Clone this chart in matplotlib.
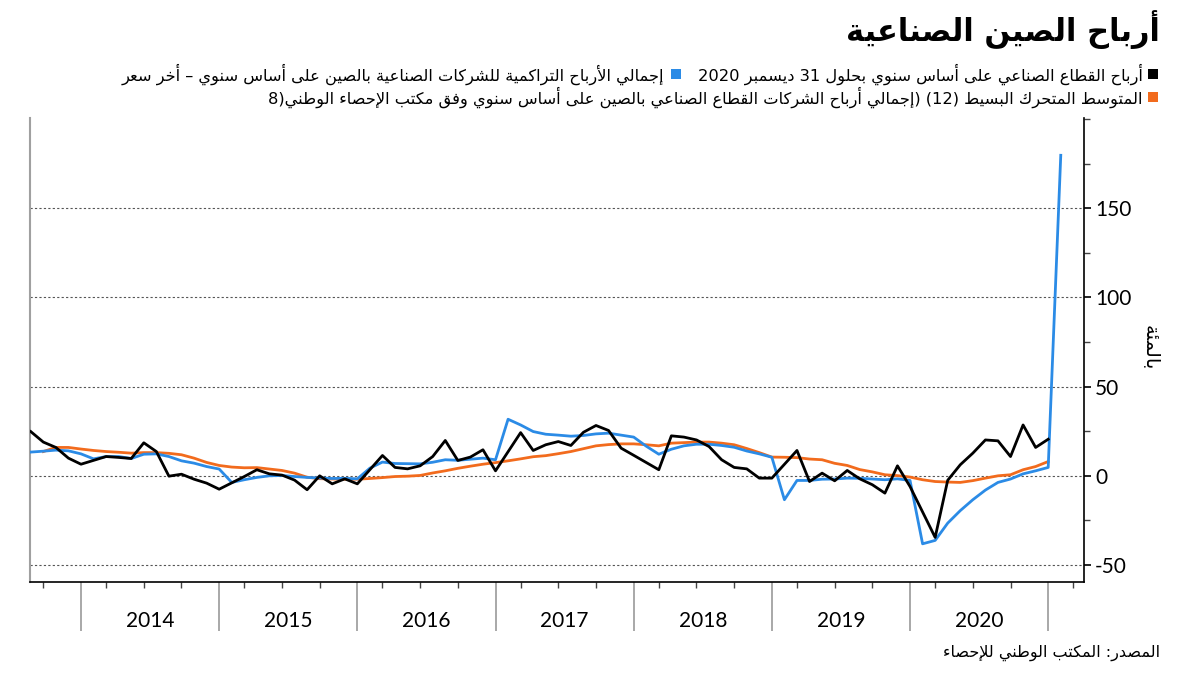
import re
import numpy as np
import matplotlib
matplotlib.use('Agg')
import matplotlib.pyplot as plt
from matplotlib.patches import Rectangle
from matplotlib.transforms import blended_transform_factory

plt.rcParams['axes.unicode_minus'] = False

#####################################################################
# data; one point per month, Jan folded into Feb

years = list(range(2014, 2021))
months = (['2013-%02d' % m for m in range(8, 13)]
          + ['%d-%02d' % (y, m) for y in years for m in range(2, 13)]
          + ['2021-02'])

# monthly profits yoy (no separate Jan-Feb point)
monthly = [24.8, 18.9, 15.9, 9.9, 6.5,
           None, 10.8, 10.3, 9.7, 18.5, 13.6, -0.2, 0.9, -1.9, -4.1, -7.5,
           None, -0.4, 3.4, 1.1, 0.4, -2.4, -7.8, 0.0, -4.5, -1.7, -4.5,
           None, 11.4, 4.7, 3.9, 5.6, 10.8, 19.8, 8.6, 10.5, 14.6, 2.8,
           None, 24.2, 14.2, 17.4, 19.2, 17.0, 24.4, 28.2, 25.4, 15.5, 11.5,
           None, 3.4, 22.4, 21.7, 20.1, 16.4, 9.0, 4.7, 3.9, -1.3, -1.3,
           None, 14.2, -3.2, 1.5, -2.8, 3.0, -1.7, -5.0, -9.7, 5.6, -6.0,
           None, -34.5, -2.5, 6.2, 12.7, 20.1, 19.6, 10.8, 28.5, 15.9, 20.5]

# cumulative year-to-date profits yoy
cumulative = [13.3, 13.8, 14.4, 14.0, 12.3,
              9.5, 10.8, 10.8, 9.7, 12.1, 12.3, 10.8, 8.4, 7.1, 5.2, 3.8,
              -3.7, -2.2, -0.9, 0.0, 0.2, -0.4, -0.9, -1.2, -1.5, -1.4, -1.7,
              4.3, 7.7, 6.9, 6.8, 6.7, 7.6, 9.0, 8.7, 9.3, 9.9, 9.0,
              31.7, 28.5, 24.8, 23.3, 22.8, 22.2, 22.6, 23.5, 23.9, 22.8, 21.7,
              16.6, 12.1, 14.9, 16.8, 17.7, 17.7, 17.0, 16.0, 13.9, 12.3, 10.4,
              -13.4, -2.6, -2.6, -1.9, -1.8, -1.3, -1.4, -1.8, -2.2, -1.7, -2.6,
              -38.1, -36.2, -26.5, -19.5, -13.4, -8.0, -3.7, -1.8, 1.1, 2.8, 4.7,
              179.6]

# 12-month simple moving average
moving_avg = [None, 13.6, 15.9, 15.9, 15.0,
              14.2, 13.6, 13.2, 12.7, 13.0, 13.0, 12.6, 11.8, 9.9, 7.5, 5.8,
              4.9, 4.5, 4.6, 3.8, 3.0, 1.5, -0.8, -1.6, -1.8, -1.9, -1.9,
              -1.5, -1.0, -0.4, -0.2, 0.2, 1.6, 2.8, 4.2, 5.4, 6.5, 7.4,
              8.4, 9.5, 10.7, 11.3, 12.4, 13.6, 15.2, 16.8, 17.5, 17.9, 17.9,
              17.4, 16.8, 18.3, 18.6, 18.9, 18.9, 18.3, 17.4, 15.3, 13.0, 10.5,
              10.4, 10.2, 9.4, 9.0, 7.0, 5.8, 3.5, 2.2, 0.6, 0.1, -0.7,
              -2.2, -3.2, -3.5, -3.7, -2.7, -1.3, 0.0, 0.6, 3.4, 5.2, 8.0]

y_ticks = [-50, 0, 50, 100, 150]

title = 'أرباح الصين الصناعية'
lab_black = 'أرباح القطاع الصناعي على أساس سنوي بحلول 31 ديسمبر 2020'
lab_blue = 'إجمالي الأرباح التراكمية للشركات الصناعية بالصين على أساس سنوي – أخر سعر'
lab_orange = ('المتوسط المتحرك البسيط (12) (إجمالي أرباح الشركات القطاع الصناعي '
              'بالصين على أساس سنوي وفق مكتب الإحصاء الوطني(8')
ylab = 'بالمئة'
source = 'المصدر: المكتب الوطني للإحصاء'

#####################################################################
# matplotlib has no arabic shaping: map letters to presentation forms
# and flip to visual order by hand

JOIN = {}
for ch, start, kind in [
        ('\u0621', 0xFE80, 0), ('\u0622', 0xFE81, 1), ('\u0623', 0xFE83, 1),
        ('\u0624', 0xFE85, 1), ('\u0625', 0xFE87, 1), ('\u0626', 0xFE89, 2),
        ('\u0627', 0xFE8D, 1), ('\u0628', 0xFE8F, 2), ('\u0629', 0xFE93, 1),
        ('\u062A', 0xFE95, 2), ('\u062B', 0xFE99, 2), ('\u062C', 0xFE9D, 2),
        ('\u062D', 0xFEA1, 2), ('\u062E', 0xFEA5, 2), ('\u062F', 0xFEA9, 1),
        ('\u0630', 0xFEAB, 1), ('\u0631', 0xFEAD, 1), ('\u0632', 0xFEAF, 1),
        ('\u0633', 0xFEB1, 2), ('\u0634', 0xFEB5, 2), ('\u0635', 0xFEB9, 2),
        ('\u0636', 0xFEBD, 2), ('\u0637', 0xFEC1, 2), ('\u0638', 0xFEC5, 2),
        ('\u0639', 0xFEC9, 2), ('\u063A', 0xFECD, 2), ('\u0641', 0xFED1, 2),
        ('\u0642', 0xFED5, 2), ('\u0643', 0xFED9, 2), ('\u0644', 0xFEDD, 2),
        ('\u0645', 0xFEE1, 2), ('\u0646', 0xFEE5, 2), ('\u0647', 0xFEE9, 2),
        ('\u0648', 0xFEED, 1), ('\u0649', 0xFEEF, 1), ('\u064A', 0xFEF1, 2)]:
    JOIN[ch] = (start, kind)
LAM_ALEF = {'\u0622': 0xFEF5, '\u0623': 0xFEF7, '\u0625': 0xFEF9, '\u0627': 0xFEFB}


def ar(text):
    toks = []
    i = 0
    while i < len(text):
        c = text[i]
        if c == '\u0644' and i + 1 < len(text) and text[i + 1] in LAM_ALEF:
            toks.append((LAM_ALEF[text[i + 1]], 1))
            i += 2
        elif c in JOIN:
            toks.append(JOIN[c])
            i += 1
        else:
            toks.append((c, -1))
            i += 1
    out = []
    for k, (base, kind) in enumerate(toks):
        if kind < 0:
            out.append(base)
            continue
        prev = k > 0 and toks[k - 1][1] == 2 and kind >= 1
        nxt = k + 1 < len(toks) and kind == 2 and toks[k + 1][1] >= 1
        if kind == 2:
            off = 3 if (prev and nxt) else 1 if prev else 2 if nxt else 0
        else:
            off = 1 if prev else 0
        out.append(chr(base + off))
    vis = ''.join(out)[::-1]
    vis = re.sub(r'[0-9]+', lambda m: m.group(0)[::-1], vis)
    return vis.translate(str.maketrans('()', ')('))


#####################################################################

W, H = 1200, 675
fig = plt.figure(figsize=(12, 6.75), dpi=100)
ax = fig.add_axes([30 / W, 1 - 582 / H, 1054 / W, 464 / H])

x = np.arange(len(months))


def series(vals):
    v = np.array([np.nan if a is None else a for a in vals], dtype=float)
    xx = x[:len(v)]
    m = ~np.isnan(v)
    return xx[m], v[m]


xo, yo = series(moving_avg)
xb, yb = series(cumulative)
xk, yk = series(monthly)
ax.plot(xo, yo, color='#f26b1d', lw=2.0, zorder=3)
ax.plot(xb, yb, color='#2b8be6', lw=2.0, zorder=4)
ax.plot(xk, yk, color='black', lw=2.0, zorder=5)

x_right = 83.85

# year separators at december, quarter ticks at mar/jun/sep
seps = [i for i, m in enumerate(months) if m.endswith('-12')]
quarters = [q for q in [1] + [s + k for s in seps for k in (2, 5, 8)] if q < x_right]
ax.set_xticks(seps)
ax.set_xticks(quarters, minor=True)
ax.tick_params(axis='x', which='major', length=35, width=1.2, color='#9a9a9a',
               labelbottom=False)
ax.tick_params(axis='x', which='minor', length=4, width=1.0, color='#444444')
ax.set_xlim(-0.06, x_right)

trans = blended_transform_factory(ax.transData, ax.transAxes)
for k, yr in enumerate(years):
    ax.text((seps[k] + seps[k + 1]) / 2, -0.083, str(yr), transform=trans,
            ha='center', va='center', fontsize=15, family='Lato')

ax.yaxis.tick_right()
ax.set_yticks(y_ticks)
ax.set_yticks(np.arange(-50, 201, 25), minor=True)
ax.set_ylim(-59.5, 200.5)
ax.tick_params(axis='y', which='major', length=5, width=1.2, pad=3,
               labelsize=15, color='black')
ax.tick_params(axis='y', which='minor', length=4, width=1.0, color='#444444')
for t in ax.get_yticklabels():
    t.set_family('Lato')

ax.grid(axis='y', which='major', linestyle=(0, (2, 2)), color='#555555', lw=0.8)
ax.spines['top'].set_visible(False)
ax.spines['left'].set_color('#a0a0a0')
ax.spines['left'].set_linewidth(1.5)
ax.spines['right'].set_linewidth(1.2)
ax.spines['bottom'].set_linewidth(1.2)

# title, legend, labels
fig.text(1160 / W, 1 - 30 / H, ar(title), ha='right', va='center',
         fontsize=22, fontweight='bold', family='DejaVu Sans')


def square(px, py, color):
    fig.add_artist(Rectangle((px / W, 1 - (py + 5) / H), 10 / W, 10 / H,
                             transform=fig.transFigure, color=color, lw=0))


square(1148, 74, 'black')
fig.text(1143 / W, 1 - 74 / H, ar(lab_black), ha='right', va='center',
         fontsize=11.7, family='DejaVu Sans')
square(671, 74, '#2b8be6')
fig.text(664 / W, 1 - 74 / H, ar(lab_blue), ha='right', va='center',
         fontsize=11.7, family='DejaVu Sans')
square(1148, 97, '#f26b1d')
fig.text(1143 / W, 1 - 97 / H, ar(lab_orange), ha='right', va='center',
         fontsize=11.7, family='DejaVu Sans')

fig.text(1150 / W, 1 - 348 / H, ar(ylab), rotation=-90, ha='center',
         va='center', fontsize=14, family='DejaVu Sans')
fig.text(1160 / W, 1 - 653 / H, ar(source), ha='right', va='center',
         fontsize=11.5, family='DejaVu Sans')

fig.savefig('out.png', dpi=100)
